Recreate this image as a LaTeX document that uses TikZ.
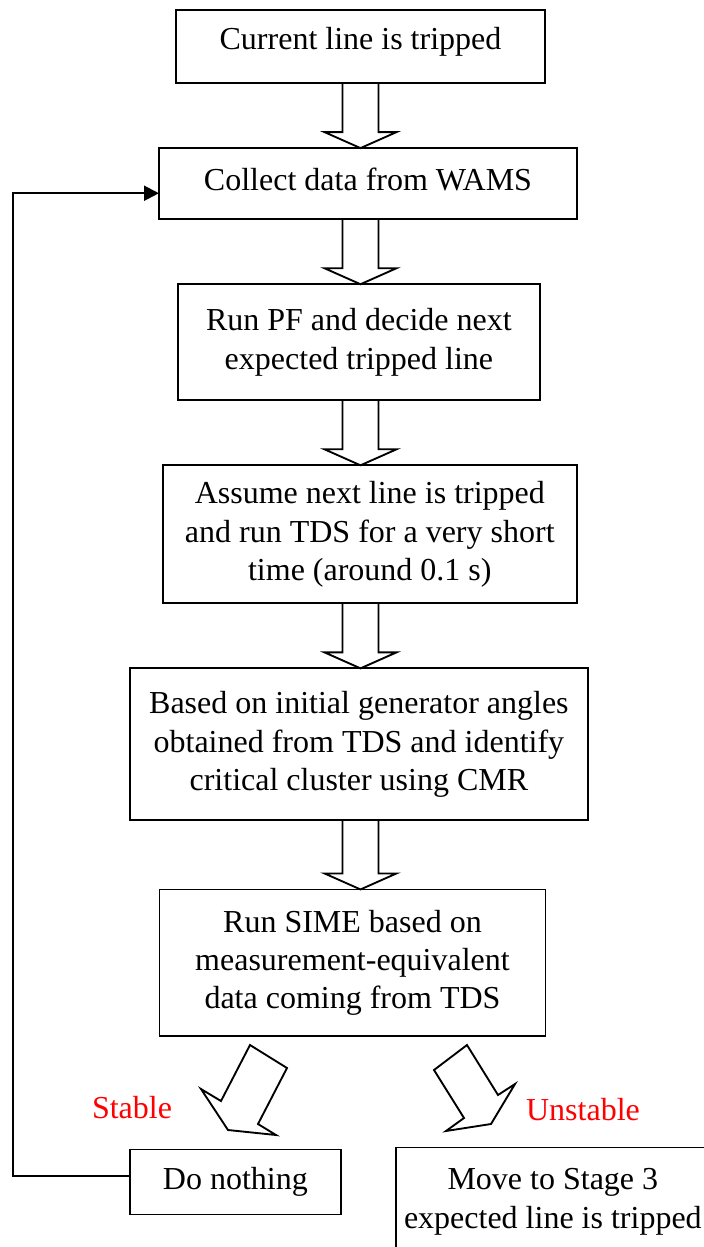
\documentclass[tikz,border=0pt]{standalone}
\usepackage{fontspec}
\setmainfont{Liberation Serif}
\usepackage{tikz}
\usetikzlibrary{arrows.meta,positioning,calc}

% hollow block arrow from one box down to the next
\newcommand{\fatarrow}[2]{%
  \draw[fat] let \p1=(#1.south -| current), \p2=(#2.north -| current) in
    (\x1-6.75pt,\y1) -- (\x1-6.75pt,\y2+6pt) -- (\x1-13.5pt,\y2+6pt) -- (\x2,\y2)
    -- (\x1+13.5pt,\y2+6pt) -- (\x1+6.75pt,\y2+6pt) -- (\x1+6.75pt,\y1);}

\begin{document}
\begin{tikzpicture}[
  x=0.375pt, y=-0.375pt,
  box/.style={rectangle, draw, line width=0.7pt, align=center, outer sep=0pt,
              font=\fontsize{12}{14.4}\selectfont, inner sep=0pt},
  fat/.style={draw, line width=0.7pt, line join=miter},
  outcome/.style={font=\fontsize{12}{14.4}\selectfont, text=red},
  arrow/.style={-{Triangle[length=5.6pt,width=5.6pt]}, line width=0.8pt},
  node distance=24.4pt
]
  \useasboundingbox (0,0) rectangle (704,1247);
  \clip (0,0) rectangle (704,1247);

  % ── MAIN CHAIN ──
  \node[box, minimum width=138.4pt, text height=15pt, text depth=12.4pt]
    (current) at (360.5,46.5) {Current line is tripped};

  \node[box, below=of current, xshift=2.8pt, minimum width=156.75pt,
        text height=15.75pt, text depth=10.9pt] (collect) {Collect data from WAMS};

  \node[box, below=of collect, xshift=-3.4pt, minimum width=135.75pt,
        minimum height=43.5pt] (runpf) {
    Run PF and decide next\\
    expected tripped line
  };
  \node[box, below=of runpf, xshift=4.1pt, minimum width=155.25pt,
        minimum height=51.75pt] (assume) {
    Assume next line is tripped\\
    and run TDS for a very short\\
    time (around 0.1 s)
  };
  \node[box, below=of assume, xshift=-4.1pt, minimum width=171.75pt,
        minimum height=57pt] (angles) {
    Based on initial generator angles\\
    obtained from TDS and identify\\
    critical cluster using CMR
  };
  \node[box, below=25.9pt of angles, xshift=-2.4pt, minimum width=144.75pt,
        minimum height=55.1pt] (sime) {
    Run SIME based on\\
    measurement-equivalent\\
    data coming from TDS
  };

  % ── OUTCOMES ──
  \node[box, below=42.4pt of sime, xshift=-43.9pt, minimum width=79.1pt,
        minimum height=24.4pt] (nothing) {Do nothing};
  \node[box, anchor=north west, minimum width=117.75pt, inner ysep=8pt] (stage)
    at ([xshift=20.6pt, yshift=0.75pt]nothing.north east) {
    Move to Stage 3\\
    expected line is tripped
  };

  \node[outcome] (stable) at (132,1108) {Stable};
  \node[outcome] (unstable) at (583,1110) {Unstable};

  % Block arrows
  \fatarrow{current}{collect}
  \fatarrow{collect}{runpf}
  \fatarrow{runpf}{assume}
  \fatarrow{assume}{angles}
  \fatarrow{angles}{sime}

  \draw[fat] (250,1045) -- (221,1101) -- (201,1089) -- (228,1130)
    -- (276,1135) -- (258,1124) -- (287,1068) -- cycle;
  \draw[fat] (467,1045) -- (498,1095) -- (515,1084) -- (491,1124)
    -- (446,1131) -- (464,1118) -- (434,1070) -- cycle;

  % Loop back
  \draw[arrow] ([yshift=2.4pt]nothing.west) -- ++(-43.9pt,0)
    |- ([yshift=-3.6pt]collect.west);
\end{tikzpicture}
\end{document}
